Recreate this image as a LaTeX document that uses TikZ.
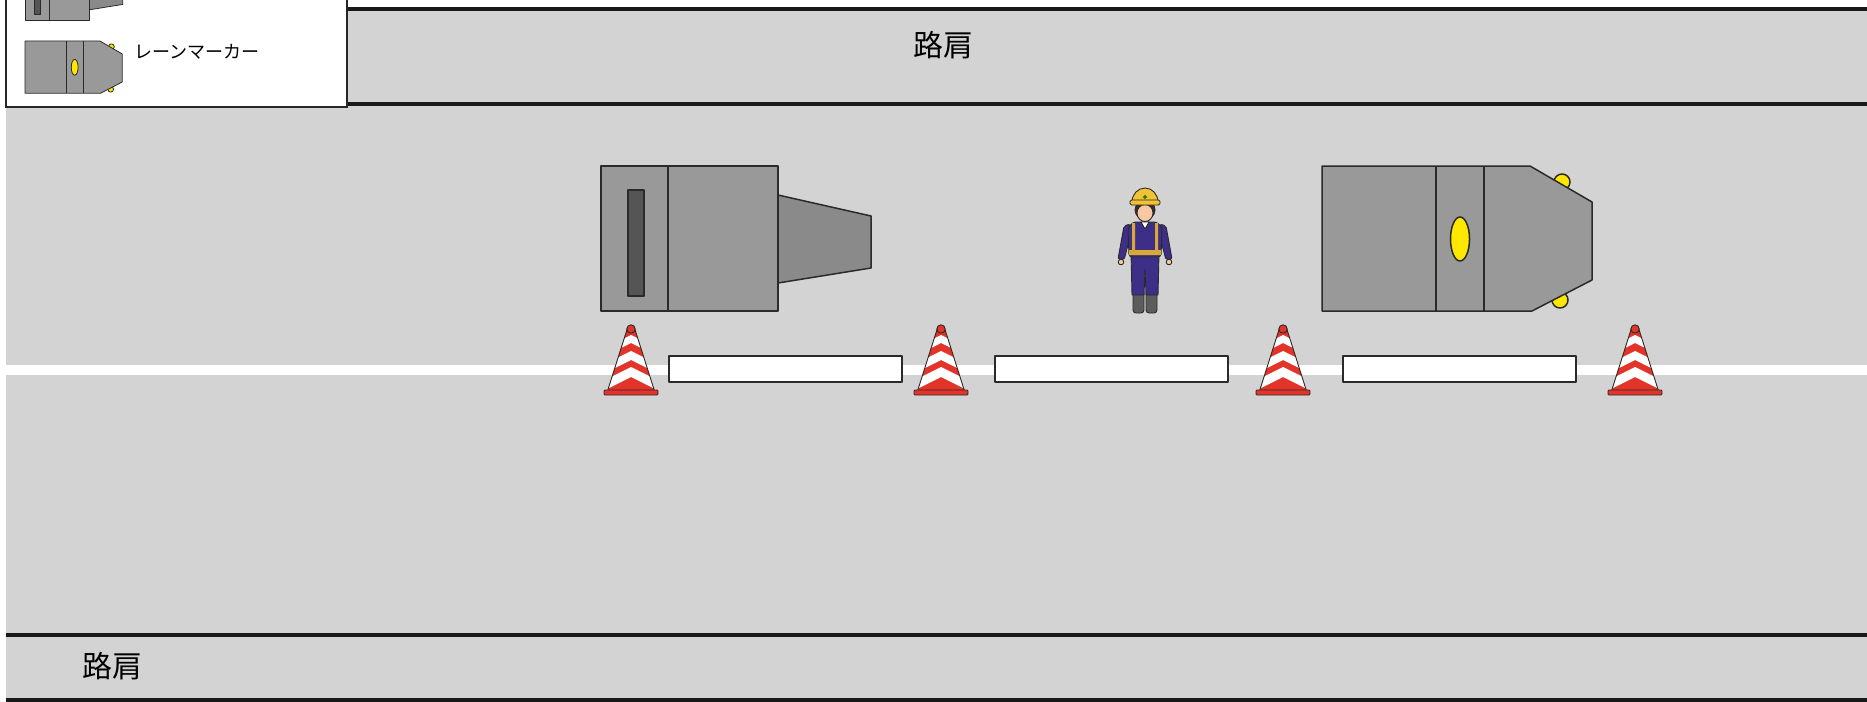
\documentclass[tikz,border=0pt]{standalone}
\usepackage{fontspec}
\newfontfamily\jpfont{Noto Sans CJK JP}

\definecolor{roadgray}{HTML}{D3D3D3}
\definecolor{bodygray}{HTML}{999999}
\definecolor{nosegray}{HTML}{8A8A8A}
\definecolor{slotgray}{HTML}{555555}
\definecolor{lampyellow}{HTML}{FFE800}
\definecolor{conered}{HTML}{E3342A}
\definecolor{suitblue}{HTML}{3D2F87}
\definecolor{helmetyellow}{HTML}{F2C232}
\definecolor{vestyellow}{HTML}{D8A936}
\definecolor{skin}{HTML}{F8C8A4}
\definecolor{hair}{HTML}{3A2C24}
\definecolor{bootgray}{HTML}{5C5C5C}
\definecolor{outline}{HTML}{2A2A2A}

\tikzset{
  outlined/.style={draw=outline, line width=1.5pt, line join=round},
  thinline/.style={draw=outline, line width=0.9pt, line join=round},
  % truck with the crash cushion at its back
  pics/cushion truck/.style={code={
    \path[outlined, fill=nosegray] (177,29) -- (270,50) -- (270,102) -- (177,117) -- cycle;
    \path[outlined, fill=bodygray] (0,0) rectangle (177,145);
    \path[outlined] (67,0) -- (67,145);
    \path[outlined, fill=slotgray] (27,24) rectangle (43,130);
  }},
  % lane marker vehicle
  pics/marker truck/.style={code={
    \path[outlined, fill=lampyellow] (240,16) circle[radius=8];
    \path[outlined, fill=lampyellow] (238,134) circle[radius=8];
    \path[outlined, fill=bodygray]
      (0,0) -- (208,0) -- (270,36) -- (270,114) -- (210,145) -- (0,145) -- cycle;
    \path[outlined] (114,0) -- (114,145) (162,0) -- (162,145);
    \path[outlined, fill=lampyellow] (138,73) ellipse[x radius=9.5, y radius=22];
  }},
  % cone, origin at the middle of its foot
  pics/cone/.style={code={
    \begin{scope}
      \clip (-3.5,-63) -- (-23.5,0) -- (23.5,0) -- (3.5,-63) -- cycle;
      \fill[conered] (-30,-70) rectangle (30,2);
      \foreach \a/\b in {-56/-48, -40/-31, -24/-14}
        \fill[white] (-30,\a+15) -- (0,\a) -- (30,\a+15) -- (30,\b+15) -- (0,\b) -- (-30,\b+15) -- cycle;
    \end{scope}
    \path[thinline] (-3.5,-63) -- (-23.5,0) -- (23.5,0) -- (3.5,-63) -- cycle;
    \path[thinline, fill=conered] (0,-62) circle[radius=4.2];
    \path[thinline, fill=conered, rounded corners=1] (-27,-1) rectangle (27,4);
  }},
  % worker, origin at the top of the helmet
  pics/worker/.style={code={
    \path[thinline, fill=bootgray, rounded corners=3] (-12,104) rectangle (-1,126);
    \path[thinline, fill=bootgray, rounded corners=3] (1,104) rectangle (12,126);
    \path[thinline, fill=suitblue]
      (-14,66) -- (14,66) -- (13,108) -- (1,108) -- (0,82) -- (-1,108) -- (-13,108) -- cycle;
    \path[thinline, fill=suitblue, rounded corners=2]
      (-15,37) -- (-21,39) -- (-27,72) -- (-21,73) -- (-16,54) -- cycle;
    \path[thinline, fill=suitblue, rounded corners=2]
      (15,37) -- (21,39) -- (27,72) -- (21,73) -- (16,54) -- cycle;
    \path[thinline, fill=skin] (-24,75) circle[radius=2.8] (24,75) circle[radius=2.8];
    \path[thinline, fill=suitblue, rounded corners=3]
      (-16,70) -- (-17,41) -- (-12,35) -- (12,35) -- (17,41) -- (16,70) -- cycle;
    \fill[vestyellow] (-13,36) rectangle (-10,66) (10,36) rectangle (13,66) (-16,63) rectangle (16,68);
    \path[thinline, fill=white] (-4,35) -- (0,42) -- (4,35) -- cycle;
    \fill[hair] (0,23) ellipse[x radius=10.5, y radius=10];
    \path[thinline, fill=skin] (0,26) ellipse[x radius=8, y radius=8.5];
    \path[thinline, fill=helmetyellow]
      (-13,15) arc[start angle=180, end angle=360, x radius=13, y radius=14] -- cycle;
    \path[thinline, fill=helmetyellow, rounded corners=1.5] (-15,13) rectangle (15,18);
    \fill[green!45!black] (-2.2,9.3) rectangle (2.2,10.7) (-0.7,7.8) rectangle (0.7,12.2);
  }},
}

\begin{document}
\begin{tikzpicture}[x=1pt, y=-1pt]
  \useasboundingbox (0,0) rectangle (1867,701);
  \fill[white] (0,0) rectangle (1867,701);
  \fill[roadgray] (6,8) rectangle (1867,701);

  % road edges and the centre line
  \begin{scope}[every path/.style={draw=black!90, line width=4pt}]
    \path (6,9.5)   -- (1867,9.5);
    \path (6,103.5) -- (1867,103.5);
    \path (6,635)   -- (1867,635);
    \path (6,699.5) -- (1867,699.5);
  \end{scope}
  \fill[white] (6,365) rectangle (1867,375);

  % covers over the centre line
  \foreach \x in {669, 995, 1343}
    \path[thinline, line width=1.3pt, fill=white] (\x,356) rectangle (\x+233,382);

  \pic at (601,166)  {cushion truck};
  \pic at (1322,166) {marker truck};
  \pic at (1145,187) {worker};
  \foreach \x in {631, 941, 1283, 1635}
    \pic at (\x,391) {cone};

  \begin{scope}[every node/.style={inner sep=0pt, font=\jpfont\fontsize{30}{36}\selectfont}]
    \node (topshoulder)    at (943,45)  {路肩};
    \node (bottomshoulder) at (112,666) {路肩};
  \end{scope}

  % legend
  \path[draw=black!85, line width=1.3pt, fill=white] (6,-10) rectangle (347,107);
  \pic[scale=0.362, outlined/.append style={line width=0.8pt}] at (25,-32.5) {cushion truck};
  \pic[scale=0.36, outlined/.append style={line width=0.8pt}] at (25,41) {marker truck};
  \node[anchor=west, inner sep=0pt, font=\jpfont\fontsize{18}{22}\selectfont]
    (markerlabel) at (134,51.5) {レーンマーカー};
\end{tikzpicture}
\end{document}
